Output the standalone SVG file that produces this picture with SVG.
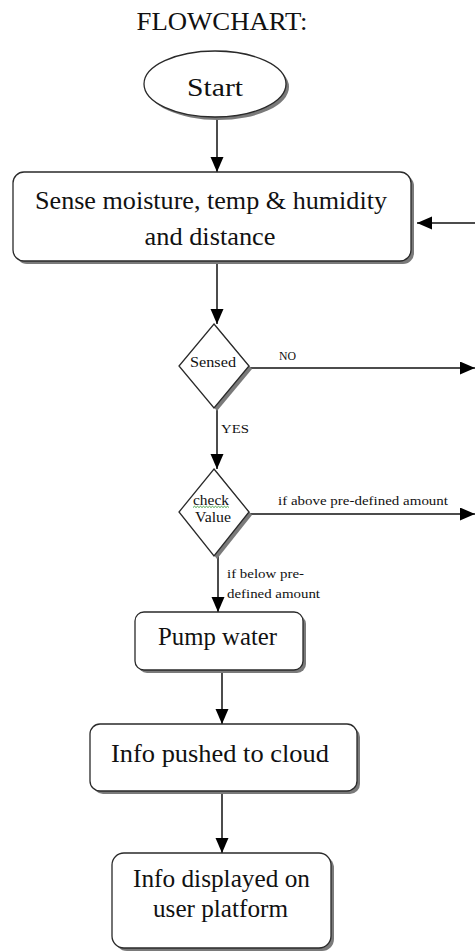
<svg xmlns="http://www.w3.org/2000/svg" width="475" height="951" viewBox="0 0 475 951">
<style>
.shape{fill:#fff;stroke:#2a2a2a;stroke-width:1.3}
.shadow{fill:#7a7a7a}
text{font-family:Liberation Serif,serif;fill:#111}
.big{font-size:26px;text-anchor:middle}
.mid{font-size:15px;text-anchor:middle}
.small{font-size:13px}
.conn{stroke:#111;stroke-width:1.5;fill:none}
</style>
<defs>
<marker id="arr" markerUnits="userSpaceOnUse" markerWidth="16" markerHeight="14" refX="15" refY="6.5" orient="auto">
<path d="M0,0 L15,6.5 L0,13 Z" fill="#000"/>
</marker>
</defs>
<text x="222" y="30" font-size="25" fill="#000" text-anchor="middle" textLength="171" lengthAdjust="spacingAndGlyphs">FLOWCHART:</text>

<g id="connectors">
<line class="conn" x1="217" y1="117" x2="217" y2="172" marker-end="url(#arr)"/>
<line class="conn" x1="475" y1="223" x2="417" y2="223" marker-end="url(#arr)"/>
<line class="conn" x1="217" y1="261" x2="217" y2="324" marker-end="url(#arr)"/>
<line class="conn" x1="249" y1="368" x2="475" y2="368" marker-end="url(#arr)"/>
<line class="conn" x1="217" y1="407" x2="217" y2="469" marker-end="url(#arr)"/>
<line class="conn" x1="249" y1="514" x2="475" y2="514" marker-end="url(#arr)"/>
<line class="conn" x1="218" y1="556" x2="218" y2="612" marker-end="url(#arr)"/>
<line class="conn" x1="222" y1="670" x2="222" y2="724" marker-end="url(#arr)"/>
<line class="conn" x1="222" y1="791" x2="222" y2="853" marker-end="url(#arr)"/>
<text class="small" x="279" y="360" font-size="10" textLength="17" lengthAdjust="spacingAndGlyphs">NO</text>
<text class="small" x="221" y="433" font-size="14" textLength="28" lengthAdjust="spacingAndGlyphs">YES</text>
<text class="small" x="278" y="505" textLength="170" lengthAdjust="spacingAndGlyphs">if above pre-defined amount</text>
<text class="small" x="227" y="578" textLength="77" lengthAdjust="spacingAndGlyphs">if below pre-</text>
<text class="small" x="227" y="598" textLength="93" lengthAdjust="spacingAndGlyphs">defined amount</text>
</g>

<g id="start">
<ellipse class="shadow" cx="218" cy="87" rx="71" ry="33"/>
<ellipse class="shape" cx="215" cy="84" rx="71" ry="33"/>
<text class="big" x="215" y="96" font-size="28" textLength="56" lengthAdjust="spacingAndGlyphs">Start</text>
</g>

<g id="sense">
<rect class="shadow" x="16" y="175" width="398" height="89" rx="11"/>
<rect class="shape" x="13" y="172" width="398" height="89" rx="11"/>
<text class="big" x="211" y="209" textLength="352" lengthAdjust="spacingAndGlyphs">Sense moisture, temp &amp; humidity</text>
<text class="big" x="210" y="245" textLength="131" lengthAdjust="spacingAndGlyphs">and distance</text>
</g>

<g id="sensed">
<polygon class="shadow" points="217,327 252,369 217,411 182,369"/>
<polygon class="shape" points="214,324 249,366 214,408 179,366"/>
<text class="mid" x="213" y="367" textLength="46" lengthAdjust="spacingAndGlyphs">Sensed</text>
</g>

<g id="check">
<polygon class="shadow" points="217,472 252,515 217,559 182,515"/>
<polygon class="shape" points="214,469 249,512 214,556 179,512"/>
<text class="mid" x="211" y="505" textLength="36" lengthAdjust="spacingAndGlyphs">check</text>
<path d="M193,507.5 l1.5,-1.2 l1.5,1.2 l1.5,-1.2 l1.5,1.2 l1.5,-1.2 l1.5,1.2 l1.5,-1.2 l1.5,1.2 l1.5,-1.2 l1.5,1.2 l1.5,-1.2 l1.5,1.2 l1.5,-1.2 l1.5,1.2 l1.5,-1.2 l1.5,1.2 l1.5,-1.2 l1.5,1.2 l1.5,-1.2 l1.5,1.2 l1.5,-1.2 l1.5,1.2 l1.5,-1.2 l1.5,1.2" fill="none" stroke="#3a9a3a" stroke-width="0.9"/>
<text class="mid" x="213" y="522" textLength="36" lengthAdjust="spacingAndGlyphs">Value</text>
</g>

<g id="pump">
<rect class="shadow" x="138" y="615" width="168" height="58" rx="9"/>
<rect class="shape" x="135" y="612" width="168" height="58" rx="9"/>
<text class="big" x="217.5" y="645" textLength="119" lengthAdjust="spacingAndGlyphs">Pump water</text>
</g>

<g id="cloud">
<rect class="shadow" x="93" y="727" width="267" height="67" rx="10"/>
<rect class="shape" x="90" y="724" width="267" height="67" rx="10"/>
<text class="big" x="220" y="762" textLength="218" lengthAdjust="spacingAndGlyphs">Info pushed to cloud</text>
</g>

<g id="display">
<rect class="shadow" x="115" y="856" width="219" height="95" rx="12"/>
<rect class="shape" x="112" y="853" width="219" height="95" rx="12"/>
<text class="big" x="221.5" y="887" textLength="177" lengthAdjust="spacingAndGlyphs">Info displayed on</text>
<text class="big" x="220.5" y="917" textLength="135" lengthAdjust="spacingAndGlyphs">user platform</text>
</g>
</svg>
